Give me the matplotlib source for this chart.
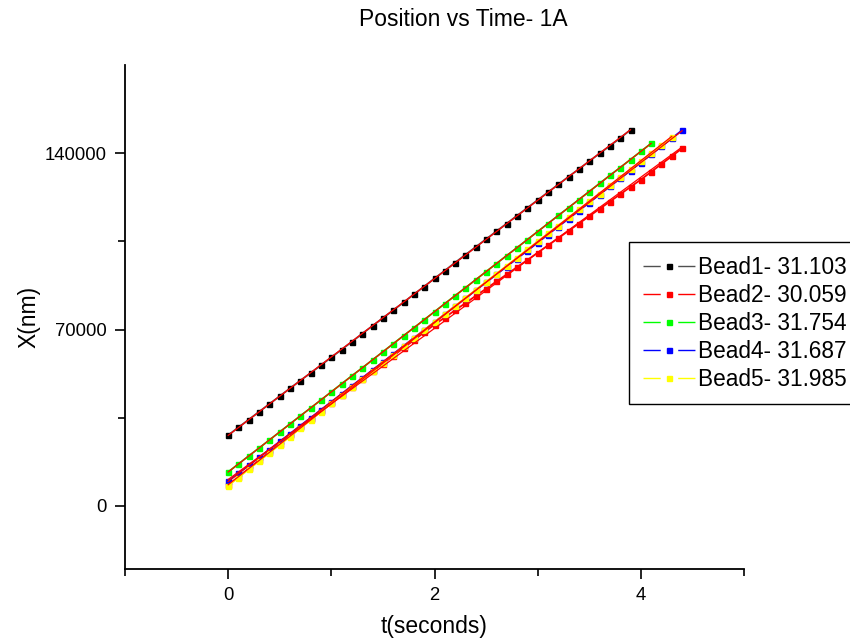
import numpy as np
import matplotlib.pyplot as plt
from matplotlib.lines import Line2D

plt.rcParams['font.family'] = ['Liberation Sans', 'DejaVu Sans']

# frame interval (s)
DT = 0.1

# bead positions (nm), one sample per frame
bead1 = [28100, 31200, 34300, 37400, 40500, 43600, 46700, 49800, 52800, 55900,
         59000, 62100, 65200, 68400, 71500, 74600, 77700, 80800, 84000, 87100,
         90300, 93400, 96600, 99700, 102800, 105900, 109000, 112100, 115200, 118300,
         121400, 124500, 127600, 130700, 133700, 136800, 139900, 142900, 146000, 149300]
bead2 = [8300, 11600, 14900, 18200, 21400, 24700, 28000, 31200, 34500, 37700,
         41000, 44100, 47200, 50300, 53400, 56500, 59600, 62700, 65800, 68900,
         72000, 74800, 77700, 80500, 83400, 86200, 89100, 91900, 94800, 97600,
         100500, 103400, 106300, 109200, 112100, 115000, 117900, 120800, 123700, 126600,
         129500, 132600, 135700, 138800, 141900]
bead3 = [13500, 16700, 19900, 23000, 26200, 29400, 32600, 35800, 38900, 42100,
         45300, 48500, 51700, 54800, 58000, 61200, 64400, 67600, 70700, 73900,
         77100, 80300, 83500, 86600, 89800, 93000, 96200, 99400, 102500, 105700,
         108900, 112100, 115300, 118400, 121600, 124800, 128000, 131200, 134300, 137500,
         140700, 143900]
bead4 = [9800, 13000, 16100, 19300, 22400, 25600, 28700, 31900, 35000, 38200,
         41300, 44500, 47700, 50800, 54000, 57100, 60300, 63500, 66700, 69800,
         73000, 76100, 79300, 82400, 85600, 88700, 91900, 95000, 98200, 101300,
         104500, 107700, 110900, 114000, 117200, 120400, 123600, 126800, 130000, 133100,
         136300, 139500, 142700, 145900, 149100]
bead5 = [8000, 11300, 14500, 17800, 21000, 24300, 27500, 30800, 34100, 37400,
         40800, 44000, 47200, 50400, 53600, 56800, 60000, 63300, 66500, 69800,
         73000, 76200, 79400, 82600, 85800, 89000, 92200, 95400, 98600, 101800,
         105000, 108200, 111300, 114500, 117700, 120900, 124000, 127200, 130400, 133600,
         136800, 140000, 143100, 146300]

labels = ['Bead1- 31.103', 'Bead2- 30.059', 'Bead3- 31.754', 'Bead4- 31.687', 'Bead5- 31.985']
line_colors = ['#505050', '#ff0000', '#00ff00', '#0000ff', '#ffff00']
marker_colors = ['#000000', '#ff0000', '#00ff00', '#0000ff', '#ffff00']

fig = plt.figure(figsize=(8.5, 6.39), dpi=100)
ax = fig.add_axes([125 / 850, 1 - 569 / 639, (744 - 125) / 850, (569 - 65) / 639])

beads = [bead1, bead2, bead3, bead4, bead5]
for ys, lc, mc in zip(beads, line_colors, marker_colors):
    ys = np.array(ys, dtype=float)
    t = np.arange(len(ys)) * DT
    ax.plot(t, ys, color=lc, lw=1.3, marker='s', ms=3.6, mfc=mc, mec=mc, zorder=2)

# linear fits
for ys in beads:
    ys = np.array(ys, dtype=float)
    t = np.arange(len(ys)) * DT
    p = np.polyfit(t, ys, 1)
    ax.plot(t, np.polyval(p, t), color='#ff0000', lw=0.9, zorder=3)

ax.set_xlim(-1, 5)
ax.set_ylim(-25000, 175000)
ax.set_xticks([0, 2, 4])
ax.set_xticks([-1, 1, 3, 5], minor=True)
ax.set_yticks([0, 70000, 140000])
ax.set_yticks([35000, 105000], minor=True)
ax.spines['top'].set_visible(False)
ax.spines['right'].set_visible(False)
for s in ['left', 'bottom']:
    ax.spines[s].set_linewidth(1.3)
ax.tick_params(which='major', direction='out', length=7, width=1.2, labelsize=13.3, pad=6)
ax.tick_params(which='minor', direction='out', length=5, width=1.2)

ax.set_xlabel('t(seconds)', fontsize=16.5, labelpad=8)
ax.set_ylabel('X(nm)', fontsize=16.5, labelpad=3)
fig.text(463 / 850, 1 - 20 / 639, 'Position vs Time- 1A', ha='center', va='center', fontsize=16.5)

# legend keys: line - marker - line, as in Origin
handles = [Line2D([], [], color=lc, lw=1.0, dashes=(12.4, 12.6), marker='s', ms=3.6,
                  mfc=mc, mec=mc)
           for lc, mc in zip(line_colors, marker_colors)]
leg = ax.legend(handles, labels, loc='upper left', bbox_to_anchor=(629 / 850, 1 - 242 / 639),
                bbox_transform=fig.transFigure, fontsize=16.3, numpoints=1,
                handlelength=2.3, handletextpad=0.15, labelspacing=0.22,
                borderpad=0.6, borderaxespad=0, fancybox=False, framealpha=1,
                edgecolor='black')
leg.get_frame().set_linewidth(1.0)

fig.savefig('out.png', dpi=100)
